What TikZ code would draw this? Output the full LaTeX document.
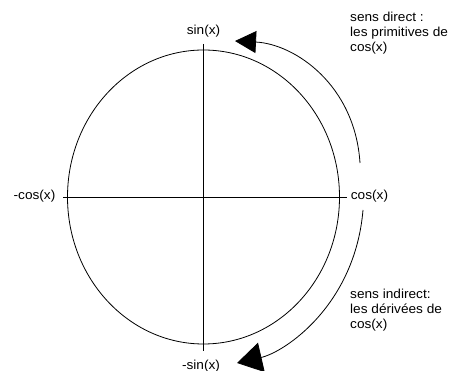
\documentclass[tikz,border=0pt]{standalone}
\usepackage{fontspec}
\setmainfont{Liberation Sans}[FakeStretch=1.05]
\usetikzlibrary{arrows.meta,shapes.geometric}
\begin{document}
\begin{tikzpicture}[x=1pt,y=-1pt,
  thinline/.style={line width=0.8pt, draw=black},
  lbl/.style={inner sep=0pt, font=\fontsize{13}{15}\selectfont},
  note/.style={inner sep=0pt, anchor=north west, align=left, font=\fontsize{13}{15}\selectfont},
  uparrow/.style={thinline, -{Triangle[length=21pt,width=22pt]}},
  downarrow/.style={thinline, -{Triangle[length=25pt,width=30pt]}}]
\useasboundingbox (0,0) rectangle (453,371);
% circle
\node[thinline, draw, ellipse, minimum width=272pt, minimum height=294pt, inner sep=0pt] (circ) at (203.5,197) {};
% axes ends
\coordinate (hl) at (63,197);
\coordinate (hr) at (347,197);
\coordinate (vt) at (203.5,44);
\coordinate (vb) at (203.5,351);
\draw[thinline] (hl) -- (hr);
\draw[thinline] (vt) -- (vb);
% labels
\node[lbl] (sin) at (203.5,31) {sin(x)};
\node[lbl] (msin) at (201,366) {-sin(x)};
\node[lbl] (mcos) at (34.5,196) {-cos(x)};
\node[lbl] (cos) at (369.5,196) {cos(x)};
% notes
\node[note] (direct) at (350,12) {sens direct :\\les primitives de\\cos(x)};
\node[note] (indirect) at (350,289) {sens indirect:\\les dérivées de\\cos(x)};
% upper arc
\coordinate (ustart) at (360,163);
\coordinate (uend) at (235,41);
\draw[uparrow] (ustart) .. controls (355,85) and (295,44) .. (uend);
% lower arc
\coordinate (dstart) at (363,210);
\coordinate (dend) at (237,363);
\draw[downarrow] (dstart) .. controls (355,305) and (285,352) .. (dend);
\end{tikzpicture}
\end{document}
